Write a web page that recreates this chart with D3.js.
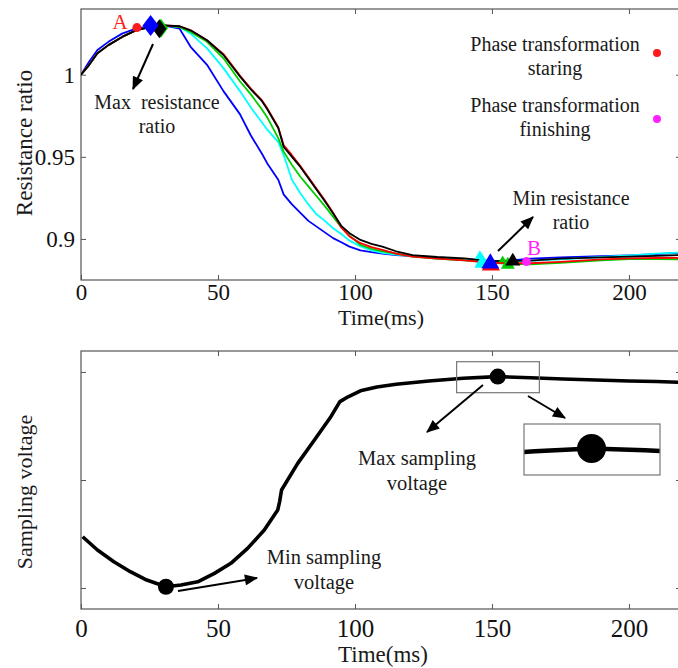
<!DOCTYPE html>
<html>
<head>
<meta charset="utf-8">
<script src="https://cdn.jsdelivr.net/npm/d3@7"></script>
<style>
  body { margin: 0; background: #fff; }
  svg { display: block; font-family: "Liberation Serif", "Times New Roman", serif; }
  .axis text { fill: #111; }
  .axis line { stroke: #555; }
</style>
</head>
<body>
<svg id="chart" width="678" height="668"></svg>
<script>
// ---- top panel: resistance ratio ----
const timeTop = [0, 3, 6, 10, 15, 20, 25, 30, 36, 40, 46, 52, 58, 62, 66, 68, 72, 74, 77, 80, 83, 86, 89, 92, 95, 98, 102, 106, 110, 115, 121, 130, 140, 150, 157, 164, 175, 190, 200, 210, 219];
const blueRatio = [1.000, 1.008, 1.015, 1.020, 1.025, 1.028, 1.0295, 1.030, 1.028, 1.017, 1.006, 0.990, 0.976, 0.963, 0.952, 0.946, 0.936, 0.927, 0.921, 0.916, 0.911, 0.9075, 0.904, 0.9005, 0.898, 0.8953, 0.893, 0.892, 0.891, 0.8902, 0.8895, 0.8885, 0.8875, 0.8862, 0.887, 0.888, 0.8888, 0.8895, 0.890, 0.8908, 0.8916];
const cyanRatio = [1.000, 1.006, 1.013, 1.018, 1.023, 1.027, 1.029, 1.030, 1.029, 1.025, 1.016, 1.004, 0.990, 0.980, 0.971, 0.9665, 0.959, 0.951, 0.936, 0.928, 0.921, 0.915, 0.911, 0.9065, 0.903, 0.899, 0.8955, 0.893, 0.8915, 0.8905, 0.8895, 0.888, 0.8872, 0.8862, 0.8863, 0.8866, 0.8875, 0.889, 0.890, 0.891, 0.8918];
const greenRatio = [1.000, 1.006, 1.013, 1.018, 1.023, 1.027, 1.029, 1.030, 1.029, 1.026, 1.020, 1.010, 0.996, 0.988, 0.979, 0.974, 0.9614, 0.953, 0.945, 0.938, 0.932, 0.926, 0.920, 0.9136, 0.907, 0.902, 0.8963, 0.894, 0.8925, 0.891, 0.8892, 0.888, 0.887, 0.8855, 0.8848, 0.8846, 0.8855, 0.887, 0.8878, 0.8878, 0.8876];
const redRatio = [1.000, 1.006, 1.013, 1.018, 1.023, 1.027, 1.029, 1.030, 1.0295, 1.027, 1.021, 1.0125, 0.9995, 0.9915, 0.9845, 0.9795, 0.968, 0.957, 0.951, 0.9445, 0.9375, 0.9305, 0.9235, 0.916, 0.907, 0.9015, 0.8974, 0.895, 0.8933, 0.891, 0.8892, 0.888, 0.887, 0.8855, 0.8852, 0.8852, 0.886, 0.8875, 0.8882, 0.8884, 0.8885];
const blackRatio = [1.000, 1.006, 1.013, 1.018, 1.023, 1.027, 1.029, 1.030, 1.0295, 1.027, 1.021, 1.012, 0.999, 0.991, 0.984, 0.979, 0.9675, 0.956, 0.950, 0.944, 0.937, 0.930, 0.923, 0.9157, 0.908, 0.9035, 0.8994, 0.897, 0.8953, 0.8925, 0.8902, 0.889, 0.8882, 0.8865, 0.8866, 0.8868, 0.888, 0.8888, 0.8892, 0.8897, 0.8902];

const ratioSeries = [
  { color: "#0000ff", values: blueRatio },
  { color: "#00ffff", values: cyanRatio },
  { color: "#00cc00", values: greenRatio },
  { color: "#ff0000", values: redRatio },
  { color: "#000000", values: blackRatio },
];

// max points (diamonds)
const diamondT = [29.2, 28.6, 25.4];
const diamondV = [1.0283, 1.0280, 1.0300];
const diamondColor = ["#00cc00", "#000000", "#0000ff"];

// min points (triangles)
const triT = [146.5, 145.6, 149.6, 149.4, 155.8, 153.9, 157.6];
const triV = [0.8858, 0.8900, 0.8845, 0.8857, 0.8848, 0.8874, 0.8870];
const triColor = ["#00ffff", "#00ffff", "#ff0000", "#0000ff", "#00cc00", "#00cc00", "#000000"];
const triSize = [16, 10, 18, 18, 14, 8, 15];

const startPoint = { t: 20.4, v: 1.0287 };
const finishPoint = { t: 162.6, v: 0.8862 };

const ratioTicks = [0.9, 0.95, 1];
const timeTicks = [0, 50, 100, 150, 200];

// ---- bottom panel: sampling voltage ----
const timeVolt = [0.6, 6, 12, 18, 24, 31, 36.5, 42.6, 48.7, 54.7, 60.8, 66.9, 71.8, 72.5, 73.2, 79.1, 85.2, 91.2, 94.5, 97.5, 102, 108, 115, 127, 139.5, 152, 164, 176, 188, 200, 210, 218];
const voltage = [0.475, 0.352, 0.244, 0.151, 0.074, 0.012, 0.028, 0.058, 0.136, 0.229, 0.367, 0.537, 0.722, 0.80, 0.907, 1.154, 1.37, 1.586, 1.725, 1.77, 1.825, 1.86, 1.886, 1.917, 1.942, 1.957, 1.947, 1.935, 1.926, 1.917, 1.911, 1.905];
const voltTicks = [0, 1, 2];
const minVolt = { t: 31, v: 0.012 };
const maxVolt = { t: 152.1, v: 1.957 };
const zoomWindow = { t0: 137.1, t1: 167.3, v0: 1.808, v1: 2.095 };

const svg = d3.select("#chart");
const defs = svg.append("defs");

defs
  .append("marker")
  .attr("id", "arrow")
  .attr("viewBox", "0 0 12 10")
  .attr("refX", 11)
  .attr("refY", 5)
  .attr("markerUnits", "userSpaceOnUse")
  .attr("markerWidth", 14)
  .attr("markerHeight", 11)
  .attr("orient", "auto")
  .append("path")
  .attr("d", "M0,0 L12,5 L0,10 Z")
  .attr("fill", "#000");

const left = 81;
const right = 681;
const font = "#1a1a1a";

// scales
const xTop = d3.scaleLinear().domain([0, 219]).range([left, right]);
const yTop = d3.scaleLinear().domain([0.875, 1.04]).range([280, 9]);
const xBot = d3.scaleLinear().domain([0, 219]).range([left, right]);
const yBot = d3.scaleLinear().domain([-0.194, 2.194]).range([609, 351]);

function diamond(w, h) {
  return `M0,${-h} L${w},0 L0,${h} L${-w},0 Z`;
}
function triangle(w) {
  const h = w * 0.85;
  return `M0,${-h * 0.6} L${w / 2},${h * 0.4} L${-w / 2},${h * 0.4} Z`;
}
function arrow(x1, y1, x2, y2, width) {
  svg
    .append("line")
    .attr("x1", x1)
    .attr("y1", y1)
    .attr("x2", x2)
    .attr("y2", y2)
    .attr("stroke", "#000")
    .attr("stroke-width", width || 2)
    .attr("marker-end", "url(#arrow)");
}
function label(lines, x, y, size, color, gap) {
  lines.forEach((s, i) => {
    svg
      .append("text")
      .attr("x", x)
      .attr("y", y + i * gap)
      .attr("text-anchor", "middle")
      .attr("font-size", size)
      .attr("fill", color || font)
      .style("white-space", "pre")
      .text(s);
  });
}

function frame(x, y, y0, y1, xTicks, yTicks, xSize, pad) {
  const g = svg.append("g");
  g.append("g")
    .attr("class", "axis")
    .attr("transform", `translate(0,${y0})`)
    .call(d3.axisBottom(x).tickValues(xTicks).tickSize(-5).tickPadding(pad))
    .call((a) => a.select(".domain").remove())
    .selectAll("text")
    .attr("font-size", xSize)
    .attr("font-family", "Liberation Serif, Times New Roman, serif");
  g.append("g")
    .attr("class", "axis")
    .attr("transform", `translate(0,${y1})`)
    .call(d3.axisTop(x).tickValues(xTicks.filter((d) => d > 0)).tickSize(-5).tickFormat(""))
    .call((a) => a.select(".domain").remove());
  const la = g
    .append("g")
    .attr("class", "axis")
    .attr("transform", `translate(${left},0)`)
    .call(d3.axisLeft(y).tickValues(yTicks).tickSize(-5).tickPadding(6).tickFormat((d) => (yTicks === voltTicks ? "" : d)))
    .call((a) => a.select(".domain").remove());
  la.selectAll("text").attr("font-size", 23).attr("font-family", "Liberation Serif, Times New Roman, serif");
  g.append("g")
    .attr("class", "axis")
    .attr("transform", `translate(${right},0)`)
    .call(d3.axisRight(y).tickValues(yTicks).tickSize(-5).tickFormat(""))
    .call((a) => a.select(".domain").remove());
  g.append("rect")
    .attr("x", left)
    .attr("y", y1)
    .attr("width", right - left)
    .attr("height", y0 - y1)
    .attr("fill", "none")
    .attr("stroke", "#555")
    .attr("stroke-width", 1.2);
}

// ---------- top panel ----------
defs.append("clipPath").attr("id", "clipTop")
  .append("rect").attr("x", left).attr("y", 9).attr("width", right - left).attr("height", 271);

frame(xTop, yTop, 280, 9, timeTicks, ratioTicks, 23, 4);

const lineTop = d3
  .line()
  .x((d, i) => xTop(timeTop[i]))
  .y((d) => yTop(d))
  .curve(d3.curveLinear);

svg
  .append("g")
  .attr("clip-path", "url(#clipTop)")
  .selectAll("path")
  .data(ratioSeries)
  .enter()
  .append("path")
  .attr("d", (d) => lineTop(d.values))
  .attr("fill", "none")
  .attr("stroke", (d) => d.color)
  .attr("stroke-width", 1.8)
  .attr("stroke-linejoin", "round");

// diamonds at max
svg
  .append("g")
  .selectAll("path")
  .data(diamondT)
  .enter()
  .append("path")
  .attr("transform", (d, i) => `translate(${xTop(d)},${yTop(diamondV[i])})`)
  .attr("d", (d, i) => (i === 2 ? diamond(8, 10.5) : diamond(7, 9.5)))
  .attr("fill", (d, i) => diamondColor[i]);

// triangles at min
svg
  .append("g")
  .selectAll("path")
  .data(triT)
  .enter()
  .append("path")
  .attr("transform", (d, i) => `translate(${xTop(d)},${yTop(triV[i])})`)
  .attr("d", (d, i) => triangle(triSize[i]))
  .attr("fill", (d, i) => triColor[i]);

svg.append("circle").attr("cx", xTop(startPoint.t)).attr("cy", yTop(startPoint.v)).attr("r", 4.5).attr("fill", "#ff1a1a");
svg.append("circle").attr("cx", xTop(finishPoint.t)).attr("cy", yTop(finishPoint.v)).attr("r", 4.5).attr("fill", "#ff22ff");

label(["A"], 120, 29, 21, "#ff2020", 0);
label(["B"], 534, 255, 21, "#ff22ff", 0);

arrow(153, 44, 133, 89, 2);
label(["Max  resistance", "ratio"], 157, 109, 20, font, 24);

arrow(498, 251, 533, 217, 2);
label(["Min resistance", "ratio"], 571, 205, 20, font, 24);

// legend
label(["Phase transformation", "staring"], 555, 51, 20, font, 24);
label(["Phase transformation", "finishing"], 555, 112, 20, font, 24);
svg.append("circle").attr("cx", 657).attr("cy", 53).attr("r", 4).attr("fill", "#ff1a1a");
svg.append("circle").attr("cx", 657).attr("cy", 119).attr("r", 4).attr("fill", "#ff22ff");

svg.append("text")
  .attr("transform", "translate(32,143) rotate(-90)")
  .attr("text-anchor", "middle")
  .attr("font-size", 23)
  .attr("fill", font)
  .text("Resistance ratio");

label(["Time(ms)"], 381, 325, 22, font, 0);

// ---------- bottom panel ----------
defs.append("clipPath").attr("id", "clipBot")
  .append("rect").attr("x", left).attr("y", 351).attr("width", right - left).attr("height", 258);

frame(xBot, yBot, 609, 351, timeTicks, voltTicks, 25, 10);

const lineBot = d3
  .line()
  .x((d, i) => xBot(timeVolt[i]))
  .y((d) => yBot(d));

svg
  .append("path")
  .attr("clip-path", "url(#clipBot)")
  .attr("d", lineBot(voltage))
  .attr("fill", "none")
  .attr("stroke", "#000")
  .attr("stroke-width", 3.6)
  .attr("stroke-linejoin", "round");

svg.append("circle").attr("cx", xBot(minVolt.t)).attr("cy", yBot(minVolt.v)).attr("r", 8).attr("fill", "#000");
svg.append("circle").attr("cx", xBot(maxVolt.t)).attr("cy", yBot(maxVolt.v)).attr("r", 8).attr("fill", "#000");

// small window around the max
svg
  .append("rect")
  .attr("x", xBot(zoomWindow.t0))
  .attr("y", yBot(zoomWindow.v1))
  .attr("width", xBot(zoomWindow.t1) - xBot(zoomWindow.t0))
  .attr("height", yBot(zoomWindow.v0) - yBot(zoomWindow.v1))
  .attr("fill", "none")
  .attr("stroke", "#777")
  .attr("stroke-width", 1.2);

// magnified inset
const inset = { x: 524, y: 424, w: 136, h: 51 };
const ix = d3.scaleLinear().domain([zoomWindow.t0, zoomWindow.t1]).range([inset.x, inset.x + inset.w]);
const iy = d3.scaleLinear().domain([zoomWindow.v0, zoomWindow.v1]).range([inset.y + inset.h, inset.y]);
defs.append("clipPath").attr("id", "clipInset")
  .append("rect").attr("x", inset.x).attr("y", inset.y).attr("width", inset.w).attr("height", inset.h);

svg
  .append("path")
  .attr("clip-path", "url(#clipInset)")
  .attr("d", d3.line().x((d, i) => ix(timeVolt[i])).y((d) => iy(d))(voltage))
  .attr("fill", "none")
  .attr("stroke", "#000")
  .attr("stroke-width", 4.5);
svg.append("circle").attr("cx", ix(maxVolt.t)).attr("cy", iy(maxVolt.v)).attr("r", 14.5).attr("fill", "#000");
svg
  .append("rect")
  .attr("x", inset.x)
  .attr("y", inset.y)
  .attr("width", inset.w)
  .attr("height", inset.h)
  .attr("fill", "none")
  .attr("stroke", "#777")
  .attr("stroke-width", 1.2);

arrow(483, 385, 427, 432, 2);
arrow(528, 396, 565, 418, 2);
label(["Max sampling", "voltage"], 417, 465, 20.5, font, 25);

arrow(178, 591, 257, 578, 2);
label(["Min sampling", "voltage"], 324, 564, 20.5, font, 25);

svg.append("text")
  .attr("transform", "translate(32,492) rotate(-90)")
  .attr("text-anchor", "middle")
  .attr("font-size", 22)
  .attr("fill", font)
  .text("Sampling voltage");

label(["Time(ms)"], 383, 662, 23, font, 0);
</script>
</body>
</html>
